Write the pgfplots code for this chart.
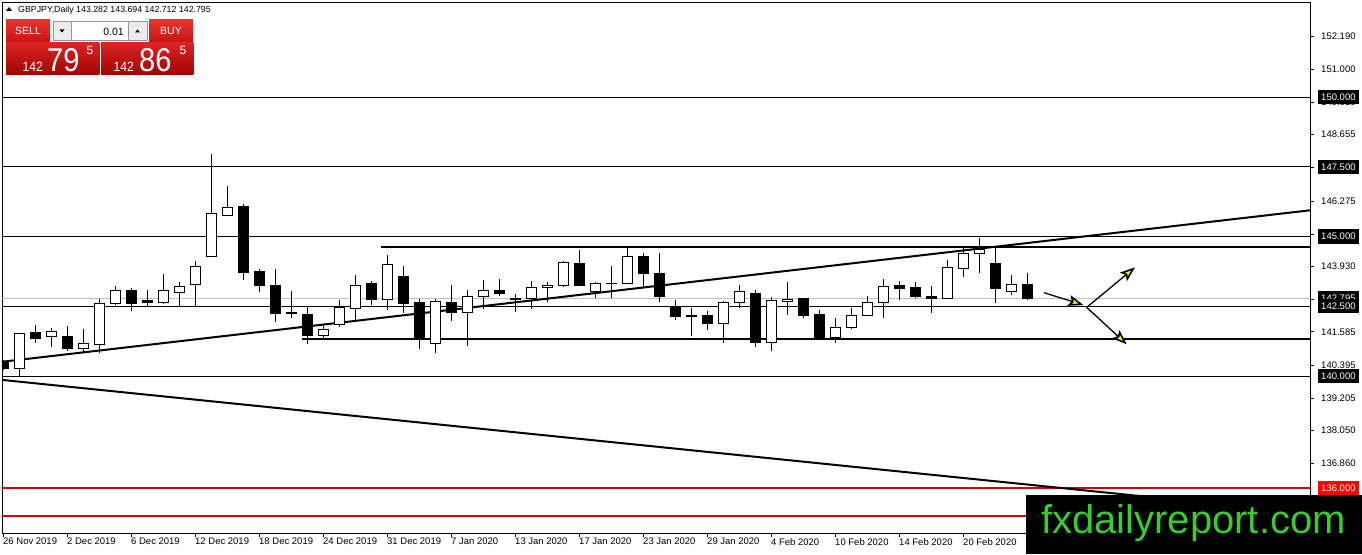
\documentclass[border=0pt]{standalone}
\usepackage{fontspec}
\setmainfont{Liberation Sans}
\usepackage{pgfplots}
\pgfplotsset{compat=1.18}
\usepackage{pgfplotstable}
\usetikzlibrary{arrows.meta}
\definecolor{btnTop}{RGB}{232,52,48}
\definecolor{btnBot}{RGB}{200,20,20}
\definecolor{boxTop}{RGB}{220,36,36}
\definecolor{boxBot}{RGB}{160,4,4}
\definecolor{wmgreen}{RGB}{57,204,46}
\definecolor{arrowyel}{RGB}{226,238,40}
\definecolor{curgray}{RGB}{192,192,192}
\definecolor{spingray}{RGB}{236,236,236}
\definecolor{spinborder}{RGB}{150,150,150}
\definecolor{levred}{RGB}{205,10,10}

\pgfplotstableread{
i O H L C
0 140.51 140.58 140.20 140.28
1 140.28 141.55 140.00 141.53
2 141.55 141.83 141.19 141.34
3 141.41 141.71 141.05 141.60
4 141.40 141.79 140.91 140.98
5 140.98 141.68 140.85 141.15
6 141.12 142.76 140.81 142.61
7 142.61 143.23 142.55 143.07
8 143.07 143.15 142.34 142.59
9 142.69 143.08 142.52 142.62
10 142.63 143.66 142.59 143.07
11 142.99 143.37 142.52 143.21
12 143.27 144.11 142.46 143.93
13 144.28 147.96 144.25 145.81
14 145.76 146.81 145.74 146.05
15 146.06 146.16 143.44 143.70
16 143.73 143.84 143.01 143.24
17 143.26 143.84 141.95 142.23
18 142.27 143.05 142.07 142.25
19 142.22 142.48 141.15 141.45
20 141.46 141.79 141.31 141.67
21 141.84 142.72 141.77 142.47
22 142.43 143.62 141.98 143.25
23 143.33 143.41 142.56 142.75
24 142.75 144.34 142.37 144.00
25 143.58 143.94 142.27 142.59
26 142.62 142.76 140.96 141.37
27 141.17 142.75 140.81 142.68
28 142.62 143.26 141.98 142.28
29 142.28 143.07 141.09 142.86
30 142.86 143.44 142.39 143.07
31 143.07 143.47 142.85 142.95
32 142.78 142.94 142.31 142.76
33 142.78 143.41 142.40 143.18
34 143.18 143.38 142.64 143.25
35 143.25 144.12 143.20 144.06
36 144.05 144.52 143.22 143.24
37 143.04 143.38 142.79 143.33
38 143.31 143.94 142.81 143.33
39 143.32 144.61 143.28 144.29
40 144.30 144.42 143.20 143.67
41 143.69 144.42 142.66 142.85
42 142.44 142.72 142.01 142.13
43 142.16 142.43 141.43 142.14
44 142.18 142.34 141.65 141.87
45 141.89 142.70 141.20 142.65
46 142.65 143.26 142.43 143.02
47 142.94 143.08 141.03 141.19
48 141.19 142.83 140.91 142.69
49 142.68 143.36 142.18 142.75
50 142.76 142.81 142.07 142.16
51 142.19 142.37 141.28 141.31
52 141.37 142.07 141.19 141.75
53 141.73 142.43 141.67 142.18
54 142.18 142.87 142.16 142.65
55 142.64 143.47 142.09 143.20
56 143.23 143.41 142.72 143.15
57 143.18 143.37 142.80 142.85
58 142.86 143.23 142.27 142.79
59 142.77 144.16 142.75 143.90
60 143.86 144.58 143.56 144.40
61 144.40 144.94 143.68 144.52
62 144.04 144.63 142.61 143.13
63 143.04 143.62 142.92 143.29
64 143.282 143.694 142.712 142.795
}\candles

\tikzset{
  plab/.style={anchor=west, inner xsep=3pt, inner ysep=3.5pt, text height=7pt, text depth=0pt,
    font=\fontsize{9.5}{11}\selectfont, text=white, fill=black},
  arr/.style={black, line width=1.3pt, -{Stealth[length=15pt, width=11pt, inset=3pt, fill=arrowyel, line width=1.6pt]}},
}

\begin{document}
\begin{tikzpicture}[x=1pt,y=1pt]
\useasboundingbox (0,0) rectangle (1362,554);
\fill[white] (0,0) rectangle (1362,554);
\begin{axis}[
  at={(2pt,21pt)}, anchor=south west,
  width=1308pt, height=531pt, scale only axis,
  xmin=-0.0625, xmax=81.6875, ymin=134.373, ymax=153.405,
  axis line style={black, line width=0.8pt},
  xtick={0,4,...,60},
  xticklabels={26 Nov 2019,2 Dec 2019,6 Dec 2019,12 Dec 2019,18 Dec 2019,24 Dec 2019,31 Dec 2019,7 Jan 2020,13 Jan 2020,17 Jan 2020,23 Jan 2020,29 Jan 2020,4 Feb 2020,10 Feb 2020,14 Feb 2020,20 Feb 2020},
  ytick={135.670,136.860,138.050,139.205,140.395,141.585,142.740,143.930,145.085,146.275,147.465,148.655,149.810,151.000,152.190},
  yticklabels={135.670,136.860,138.050,139.205,140.395,141.585,142.740,143.930,145.085,146.275,147.465,148.655,149.810,151.000,152.190},
  xtick pos=left, xticklabel pos=left, ytick pos=right, yticklabel pos=right,
  tick align=outside, major tick length=4pt,
  every tick/.style={black, line width=0.6pt},
  ticklabel style={font=\fontsize{9.5}{11}\selectfont, inner sep=0pt},
  xticklabel style={anchor=north west, yshift=-1pt},
  yticklabel style={anchor=west, xshift=7pt},
]
% horizontal levels
\addplot[black, line width=0.8pt] coordinates {(-1,150) (90,150)};
\addplot[black, line width=0.8pt] coordinates {(-1,147.5) (90,147.5)};
\addplot[black, line width=0.8pt] coordinates {(-1,145) (90,145)};
\addplot[black, line width=0.8pt] coordinates {(-1,142.5) (90,142.5)};
\addplot[black, line width=0.8pt] coordinates {(-1,140) (90,140)};
\addplot[draw=levred, line width=2pt] coordinates {(-1,136) (90,136)};
\addplot[draw=levred, line width=2pt] coordinates {(-1,135) (90,135)};
\addplot[curgray, line width=0.8pt] coordinates {(-1,142.795) (90,142.795)};
% thick channel lines
\addplot[black, line width=2pt] coordinates {(23.625,144.63) (90,144.63)};
\addplot[black, line width=2pt] coordinates {(18.69,141.315) (90,141.315)};
% trendlines
\addplot[black, line width=2pt] coordinates {(-1,140.447) (82,145.960)};
\addplot[black, line width=2pt] coordinates {(-1,139.915) (82,135.058)};
% candles: wicks
\addplot[draw=none, mark=none, forget plot,
  error bars/.cd, y dir=plus, y explicit, error mark=none,
  error bar style={draw=black, solid, line width=1pt}]
  table[x=i, y=L, y error plus expr={\thisrow{H}-\thisrow{L}}] {\candles};
% candles: body outline / black body
\addplot[draw=none, mark=none, forget plot,
  error bars/.cd, y dir=plus, y explicit, error mark=none,
  error bar style={draw=black, solid, line width=11pt}]
  table[x=i, y expr={min(\thisrow{O},\thisrow{C})-0.018}, y error plus expr={abs(\thisrow{C}-\thisrow{O})+0.036}] {\candles};
% candles: white fill of rising bars
\addplot[draw=none, mark=none, forget plot,
  error bars/.cd, y dir=plus, y explicit, error mark=none,
  error bar style={draw=white, solid, line width=9pt}]
  table[x=i, y expr={\thisrow{O}+0.018}, y error plus expr={max(\thisrow{C}-\thisrow{O}-0.036,0)}] {\candles};
% arrows
\addplot[arr] coordinates {(65.06,142.985) (67.52,142.545)};
\addplot[arr] coordinates {(67.73,142.46) (70.75,143.896)};
\addplot[arr] coordinates {(67.73,142.46) (70.23,141.136)};
% label anchors
\coordinate (L150) at (axis cs:81.6875,150);
\coordinate (L1475) at (axis cs:81.6875,147.5);
\coordinate (L145) at (axis cs:81.6875,145);
\coordinate (Lcur) at (axis cs:81.6875,142.795);
\coordinate (L1425) at (axis cs:81.6875,142.5);
\coordinate (L140) at (axis cs:81.6875,140);
\coordinate (L136) at (axis cs:81.6875,136);
\end{axis}
% price labels on the right scale
\node[plab] at ([xshift=8pt]L150) {150.000};
\node[plab] at ([xshift=8pt]L1475) {147.500};
\node[plab] at ([xshift=8pt]L145) {145.000};
\node[plab] at ([xshift=8pt]Lcur) {142.795};
\node[plab] at ([xshift=8pt]L1425) {142.500};
\node[plab] at ([xshift=8pt]L140) {140.000};
\node[plab, fill=red] at ([xshift=8pt]L136) {136.000};
% header
\fill[black] (6,543) -- (12,543) -- (9,547) -- cycle;
\node[anchor=base west, inner sep=0pt, font=\fontsize{8.8}{10}\selectfont] at (18,541) {GBPJPY,Daily 143.282 143.694 142.712 142.795};
% one-click trading panel
\shade[top color=btnTop, bottom color=btnBot] (6,512.3) rectangle (50,534);
\node[text=white, font=\fontsize{10.5}{12}\selectfont] at (28,523.2) {SELL};
\shade[top color=btnTop, bottom color=btnBot] (149,512.3) rectangle (193,534);
\node[text=white, font=\fontsize{10.5}{12}\selectfont] at (171,523.2) {BUY};
\filldraw[fill=spingray, draw=spinborder, line width=0.6pt] (53,513.3) rectangle (71,532.3);
\fill[black] (59.5,524.5) -- (64.5,524.5) -- (62,521.5) -- cycle;
\filldraw[fill=white, draw=spinborder, line width=0.6pt] (71,513.3) rectangle (128,532.3);
\node[anchor=base east, inner sep=0pt, font=\fontsize{10.5}{12}\selectfont] at (124,518.5) {0.01};
\filldraw[fill=spingray, draw=spinborder, line width=0.6pt] (128,513.3) rectangle (147,532.3);
\fill[black] (135,521.5) -- (140,521.5) -- (137.5,524.5) -- cycle;
\shade[top color=boxTop, bottom color=boxBot] (6,479) rectangle (99.3,511.3);
\shade[top color=boxTop, bottom color=boxBot] (101,479) rectangle (193.3,511.3);
\node[anchor=base west, inner sep=0pt, text=white, font=\fontsize{13.5}{14}\selectfont] at (22.5,482.5) {\scalebox{0.9}[1]{142}};
\node[anchor=base west, inner sep=0pt, text=white, font=\fontsize{33}{34}\selectfont] at (47,482.5) {\scalebox{0.88}[1]{79}};
\node[anchor=base west, inner sep=0pt, text=white, font=\fontsize{12}{13}\selectfont] at (86.5,499) {5};
\node[anchor=base west, inner sep=0pt, text=white, font=\fontsize{13.5}{14}\selectfont] at (113.5,482.5) {\scalebox{0.9}[1]{142}};
\node[anchor=base west, inner sep=0pt, text=white, font=\fontsize{33}{34}\selectfont] at (139,482.5) {\scalebox{0.88}[1]{86}};
\node[anchor=base west, inner sep=0pt, text=white, font=\fontsize{12}{13}\selectfont] at (179.5,499) {5};
% watermark
\fill[black] (1026,0) rectangle (1362,59);
\node[anchor=base west, inner sep=0pt, text=wmgreen, font=\fontsize{40}{44}\selectfont] at (1041,20) {fxdailyreport.com};
\end{tikzpicture}
\end{document}
